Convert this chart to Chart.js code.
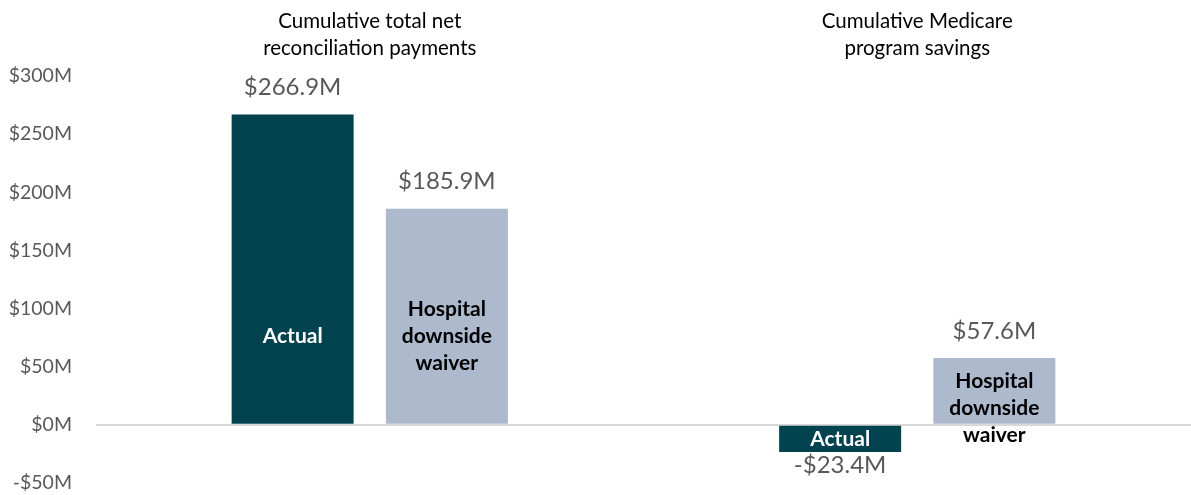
<!DOCTYPE html>
<html>

<head>
    <title>Reconciliation payments and savings</title>
    <meta charset="utf-8">
    <script src="https://cdn.jsdelivr.net/npm/chart.js@4.4.0/dist/chart.umd.min.js"></script>
    <style>
    html, body { margin: 0; padding: 0; background: #fff; overflow: hidden; }
    canvas { display: block; }
    </style>
</head>

<body>
    <canvas id="chart" width="1191" height="495"></canvas>
    <script type="text/javascript">
    // data
    var categories = [
        ['Cumulative total net', 'reconciliation payments'],
        ['Cumulative Medicare', 'program savings']
    ];
    var seriesNames = [['Actual'], ['Hospital', 'downside', 'waiver']];
    var actualValues = [266.9, -23.4];
    var waiverValues = [185.9, 57.6];
    var yMin = -50, yMax = 300, yStep = 50;

    var FONT = 'Lato, "Noto Sans", sans-serif';
    var teal = '#02434f';
    var slate = '#adb9cc';

    function money(v) {
        return (v < 0 ? '-' : '') + '$' + Math.abs(v).toFixed(1) + 'M';
    }

    // group titles above each category
    var titlesPlugin = {
        id: 'titles',
        afterDraw: function(chart) {
            var ctx = chart.ctx, xs = chart.scales.x;
            ctx.save();
            ctx.font = '20.5px ' + FONT;
            ctx.fillStyle = '#000';
            ctx.textAlign = 'center';
            ctx.textBaseline = 'middle';
            categories.forEach(function(lines, i) {
                var cx = xs.getPixelForValue(i);
                lines.forEach(function(t, j) {
                    ctx.fillText(t, cx, 21 + j * 27);
                });
            });
            ctx.restore();
        }
    };

    // value labels outside bars, series names inside
    var barLabels = {
        id: 'barLabels',
        afterDatasetsDraw: function(chart) {
            var ctx = chart.ctx, ys = chart.scales.y;
            ctx.save();
            ctx.textAlign = 'center';
            ctx.textBaseline = 'middle';
            chart.data.datasets.forEach(function(ds, di) {
                var meta = chart.getDatasetMeta(di);
                meta.data.forEach(function(bar, i) {
                    var v = ds.data[i];
                    ctx.font = '24px ' + FONT;
                    ctx.fillStyle = '#595959';
                    if (v >= 0) ctx.fillText(money(v), bar.x, bar.y - 27);
                    else ctx.fillText(money(v), bar.x, bar.y + 13);

                    var lines = seriesNames[di];
                    var block = lines.length * 27;
                    var barH = Math.abs(bar.base - bar.y);
                    var cy;
                    if (block + 20 <= barH) {
                        var s = v < 0 ? -1 : 1;
                        cy = ys.getPixelForValue(s * Math.min(Math.abs(v) / 2, 76));
                    } else if (v >= 0) {
                        cy = bar.y + 10 + block / 2;
                    } else {
                        cy = (bar.y + bar.base) / 2;
                    }
                    ctx.font = 'bold 21px ' + FONT;
                    ctx.fillStyle = di === 0 ? '#fff' : '#000';
                    lines.forEach(function(t, j) {
                        ctx.fillText(t, bar.x, cy - block / 2 + 13.5 + j * 27);
                    });
                });
            });
            ctx.restore();
        }
    };

    new Chart(document.getElementById('chart'), {
        type: 'bar',
        data: {
            labels: categories,
            datasets: [{
                label: 'Actual',
                data: actualValues,
                backgroundColor: teal
            }, {
                label: 'Hospital downside waiver',
                data: waiverValues,
                backgroundColor: slate
            }]
        },
        options: {
            responsive: false,
            animation: false,
            categoryPercentage: 0.5634,
            barPercentage: 0.791,
            layout: { padding: { left: 0, right: -9, top: 76, bottom: 12 } },
            plugins: {
                legend: { display: false },
                tooltip: { enabled: false }
            },
            scales: {
                x: { display: false },
                y: {
                    min: yMin,
                    max: yMax,
                    afterFit: function(scale) {
                        scale.width = 96;
                        // tick padding shouldn't eat vertical room
                        scale.paddingTop = 12;
                        scale.paddingBottom = 12;
                    },
                    border: { display: false },
                    grid: {
                        drawTicks: false,
                        lineWidth: 2,
                        color: function(c) { return c.tick && c.tick.value === 0 ? '#d9d9d9' : 'rgba(0,0,0,0)'; }
                    },
                    ticks: {
                        stepSize: yStep,
                        padding: 24,
                        color: '#595959',
                        font: { family: FONT, size: 19.5 },
                        callback: function(v) { return (v < 0 ? '-' : '') + '$' + Math.abs(v) + 'M'; }
                    }
                }
            }
        },
        plugins: [titlesPlugin, barLabels]
    });
    </script>
</body>

</html>
